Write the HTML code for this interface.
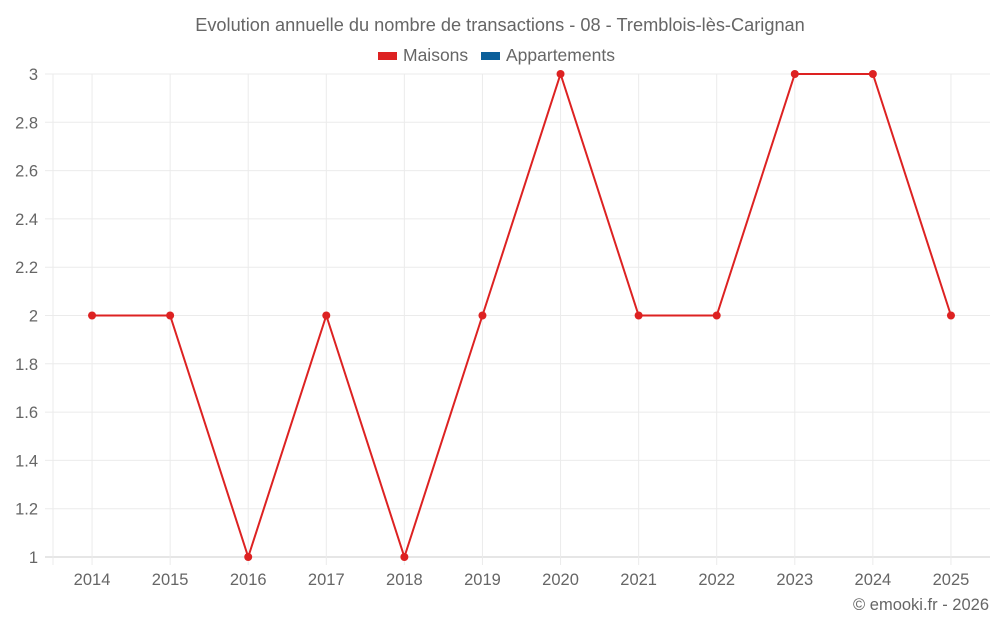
<!DOCTYPE html>
<html><head><meta charset="utf-8"><style>
body{margin:0;background:#fff;font-family:"Liberation Sans",sans-serif}
svg text{font-family:"Liberation Sans",sans-serif;fill:#666}
</style></head><body>
<svg id="chart" width="1000" height="625">
<text x="500" y="31" text-anchor="middle" font-size="18.2">Evolution annuelle du nombre de transactions - 08 - Tremblois-lès-Carignan</text>
<g><rect x="378" y="52" width="19" height="8" fill="#dd2222"/><text x="403" y="61" font-size="17.5">Maisons</text></g>
<g><rect x="481" y="52" width="19" height="8" fill="#0b5f9a"/><text x="506" y="61" font-size="17.5">Appartements</text></g>
<g id="grid"></g><g id="axes"></g><g id="series"></g>
<text x="989" y="610" text-anchor="end" font-size="16.5">© emooki.fr - 2026</text>
</svg>
<script>
const categories=["2014","2015","2016","2017","2018","2019","2020","2021","2022","2023","2024","2025"];
const maisons=[2,2,1,2,1,2,3,2,2,3,3,2];
const yTicks=[1,1.2,1.4,1.6,1.8,2,2.2,2.4,2.6,2.8,3];
const L=53,R=990,T=74,B=557,yMin=1,yMax=3;
const bw=(R-L)/categories.length;
const x=i=>L+bw*(i+0.5);
const y=v=>B-(v-yMin)/(yMax-yMin)*(B-T);
const ns="http://www.w3.org/2000/svg";
function mk(t,a,p){const e=document.createElementNS(ns,t);for(const k in a)e.setAttribute(k,a[k]);p.appendChild(e);return e;}
const g=document.getElementById('grid'),ax=document.getElementById('axes'),s=document.getElementById('series');
yTicks.forEach(v=>{
 const l=mk('line',{x1:45,x2:R,y1:y(v),y2:y(v),stroke:v===yMin?'#ccc':'#ebebeb'},g);
 
 
 const t=mk('text',{x:38,y:y(v)+6,'text-anchor':'end','font-size':16.5},ax);t.textContent=String(v);
 
 
});
mk('line',{x1:L,x2:L,y1:T,y2:B+8,stroke:'#ebebeb'},g);
categories.forEach((c,i)=>{
 const l=mk('line',{x1:x(i),x2:x(i),y1:T,y2:B+8,stroke:'#ebebeb'},g);
 
 
 const t=mk('text',{x:x(i),y:B+28,'text-anchor':'middle','font-size':16.5},ax);t.textContent=c;
 
 
});
const p=mk('polyline',{points:maisons.map((v,i)=>x(i)+','+y(v)).join(' '),fill:'none',stroke:'#dd2222','stroke-width':2},s);


maisons.forEach((v,i)=>{
 const c=mk('circle',{cx:x(i),cy:y(v),r:4,fill:'#dd2222'},s);
 
 
});
</script>
</body></html>
